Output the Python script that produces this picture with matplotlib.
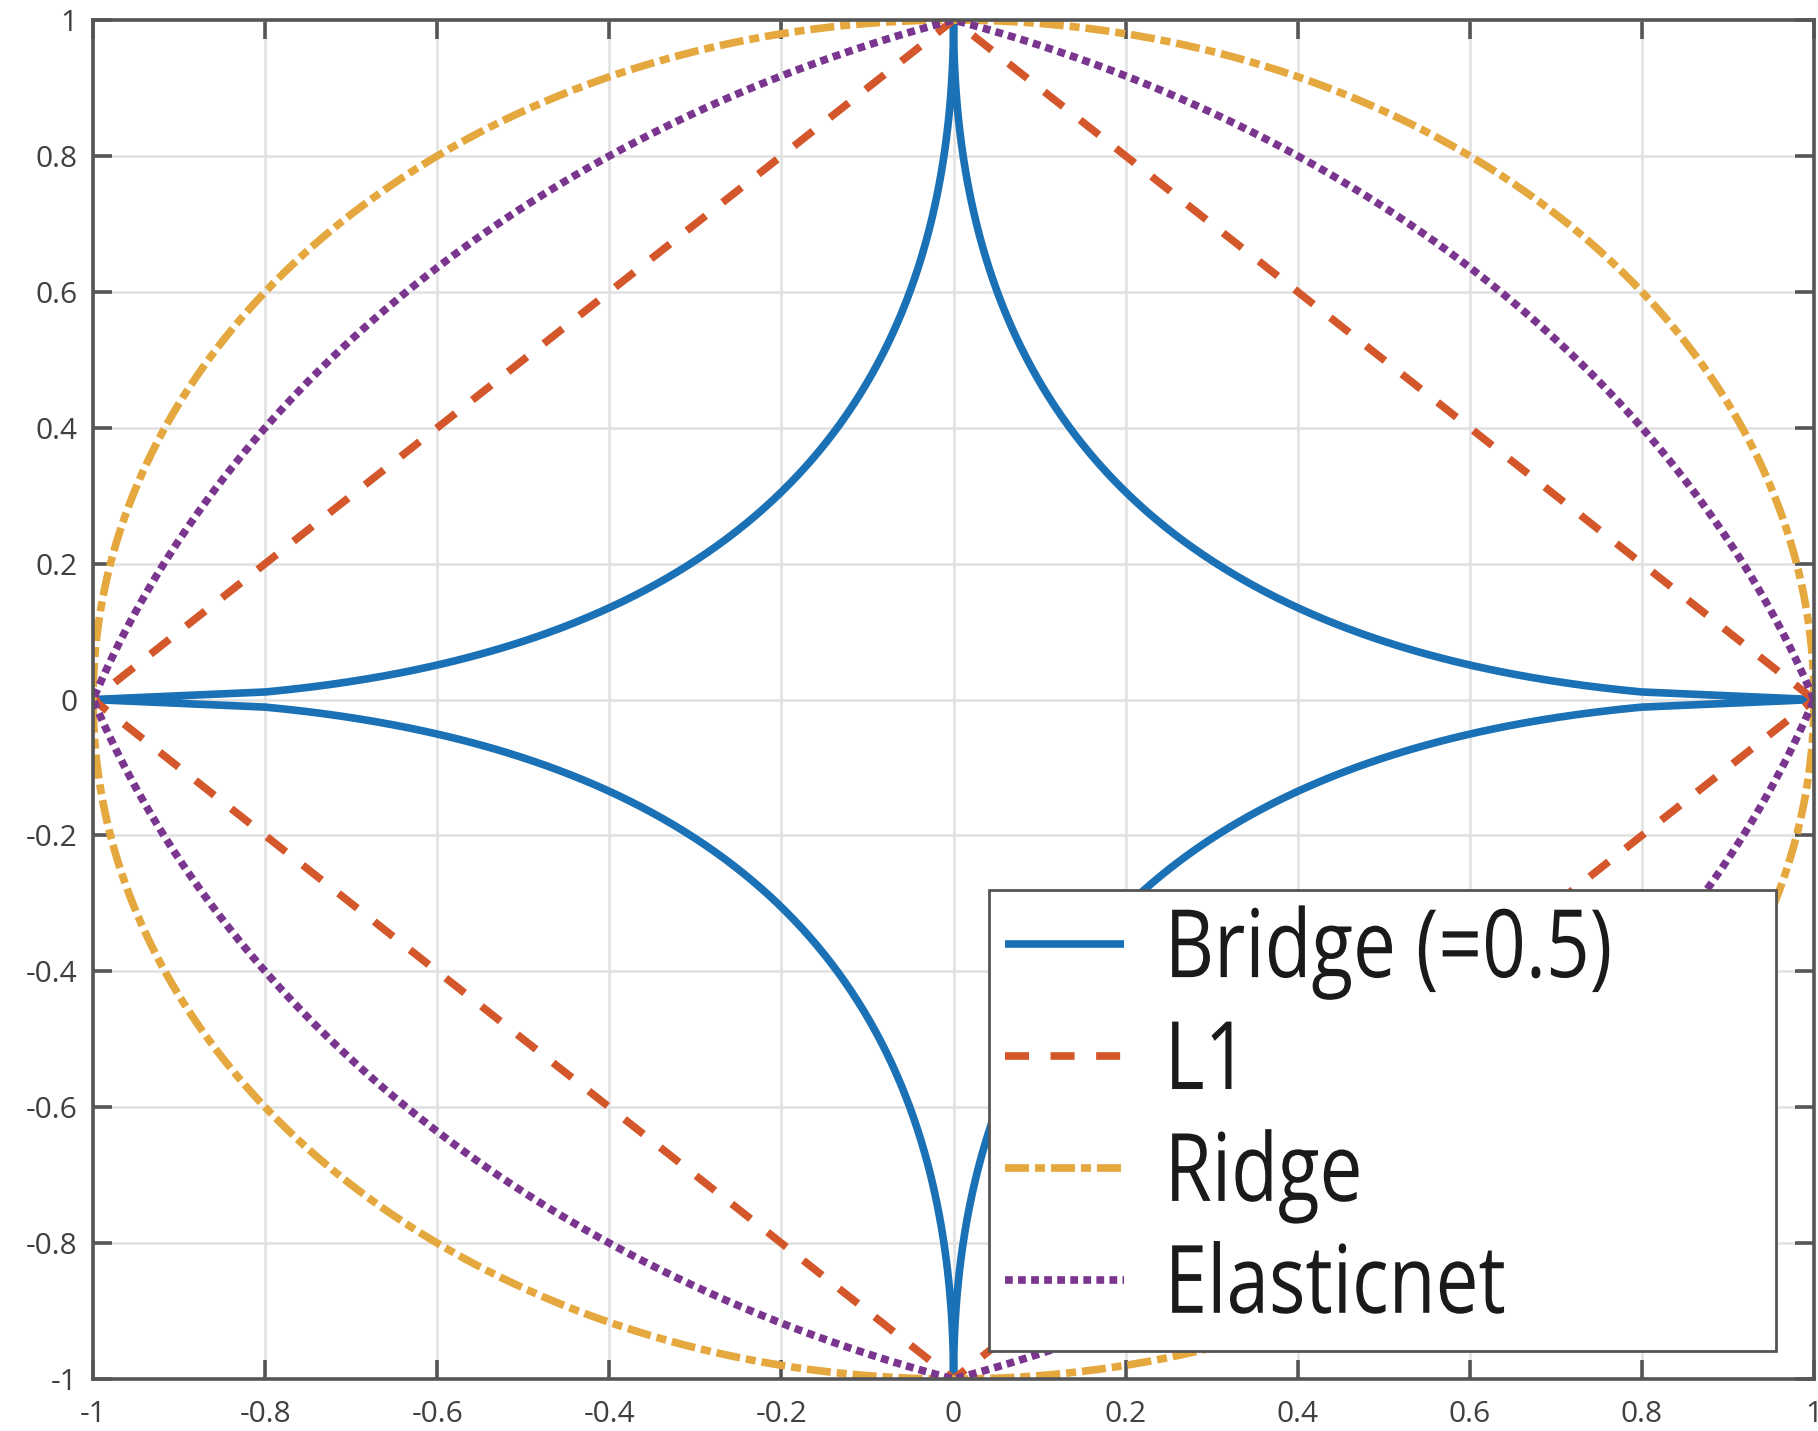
import numpy as np
import matplotlib.pyplot as plt
from matplotlib.patheffects import AbstractPathEffect
from matplotlib.transforms import Affine2D

plt.rcParams['lines.scale_dashes'] = False
plt.rcParams['axes.unicode_minus'] = False
plt.rcParams['font.family'] = ['Open Sans', 'DejaVu Sans']

# penalty shapes: Lq exponents and elastic-net mixing
bridge_q = 0.5
lasso_q = 1.0
ridge_q = 2.0
elastic_alpha = 0.5
bridge_knot = 0.8          # bridge curve is a straight piece beyond |x| = 0.8

ticks = [-1, -0.8, -0.6, -0.4, -0.2, 0, 0.2, 0.4, 0.6, 0.8, 1]
tick_labels = ['-1', '-0.8', '-0.6', '-0.4', '-0.2', '0', '0.2', '0.4', '0.6', '0.8', '1']
labels = ['Bridge (=0.5)', 'L1', 'Ridge', 'Elasticnet']
colors = ['#1a71b5', '#d4572b', '#e4a83f', '#7a358f']


def lq_radius(theta, q):
    c, s = np.abs(np.cos(theta)), np.abs(np.sin(theta))
    return (c ** q + s ** q) ** (-1.0 / q)


def elastic_radius(theta, a):
    l1 = np.abs(np.cos(theta)) + np.abs(np.sin(theta))
    return (-a * l1 + np.sqrt((a * l1) ** 2 + 4 * (1 - a))) / (2 * (1 - a))


def closed(qx, qy):
    # quarter from (1,0) to (0,1), mirrored into the other quadrants
    x = np.concatenate([qx, -qx[::-1], -qx, qx[::-1]])
    y = np.concatenate([qy, qy[::-1], -qy, -qy[::-1]])
    return x, y


th = np.linspace(0, np.pi / 2, 400)
xb = np.concatenate([[1.0], bridge_knot * np.linspace(1, 0, 500) ** 2])
yb = (1 - xb ** bridge_q) ** (1 / bridge_q)

r_l1 = lq_radius(th, lasso_q)
r_l2 = lq_radius(th, ridge_q)
r_en = elastic_radius(th, elastic_alpha)

curves = [
    closed(xb, yb),
    closed(r_l1 * np.cos(th), r_l1 * np.sin(th)),
    closed(r_l2 * np.cos(th), r_l2 * np.sin(th)),
    closed(r_en * np.cos(th), r_en * np.sin(th)),
]
line_dashes = [None, (17.3, 15.5), (17.3, 4.3, 7.2, 4.3), (5.6, 3.8)]


class Squeeze(AbstractPathEffect):
    """Narrow the glyphs horizontally a little."""

    def __init__(self, sx):
        super().__init__()
        self.sx = sx

    def draw_path(self, renderer, gc, tpath, affine, rgbFace=None):
        renderer.draw_path(gc, tpath, Affine2D().scale(self.sx, 1) + affine, rgbFace)


fig = plt.figure(figsize=(18.18, 14.31), dpi=100)
ax = fig.add_axes([0.0512, 0.0363, 0.9466, 0.9497])

lw = 5.5
for (x, y), c, d, lab in zip(curves, colors, line_dashes, labels):
    if d is None:
        ax.plot(x, y, color=c, lw=lw, solid_capstyle='butt', label=lab)
    else:
        ax.plot(x, y, color=c, lw=lw, dashes=d, dash_capstyle='butt', label=lab)

ax.set_xlim(-1, 1)
ax.set_ylim(-1, 1)
ax.set_xticks(ticks, tick_labels)
ax.set_yticks(ticks, tick_labels)
ax.grid(True, color='#e2e2e2', lw=1.9)
ax.set_axisbelow(True)
for sp in ax.spines.values():
    sp.set_color('#555555')
    sp.set_linewidth(2.6)
ax.tick_params(direction='in', length=13.5, width=2.6, color='#555555',
               top=True, right=True, labelsize=21.5, labelcolor='#404040')
ax.tick_params(axis='x', pad=15)
ax.tick_params(axis='y', pad=11)

leg = ax.legend(loc='upper left',
                bbox_to_anchor=(0.5206, 0.028, 0.4573, 0.3318), mode='expand',
                borderaxespad=0, fancybox=False, framealpha=1, edgecolor='#555555',
                prop={'size': 68}, handlelength=1.26, handletextpad=0.43,
                borderpad=0.17, labelspacing=0.2)
leg.get_frame().set_linewidth(2)
for t in leg.get_texts():
    t.set_color('#1a1a1a')
    t.set_path_effects([Squeeze(0.81)])

fig.savefig('out.png', dpi=100)
